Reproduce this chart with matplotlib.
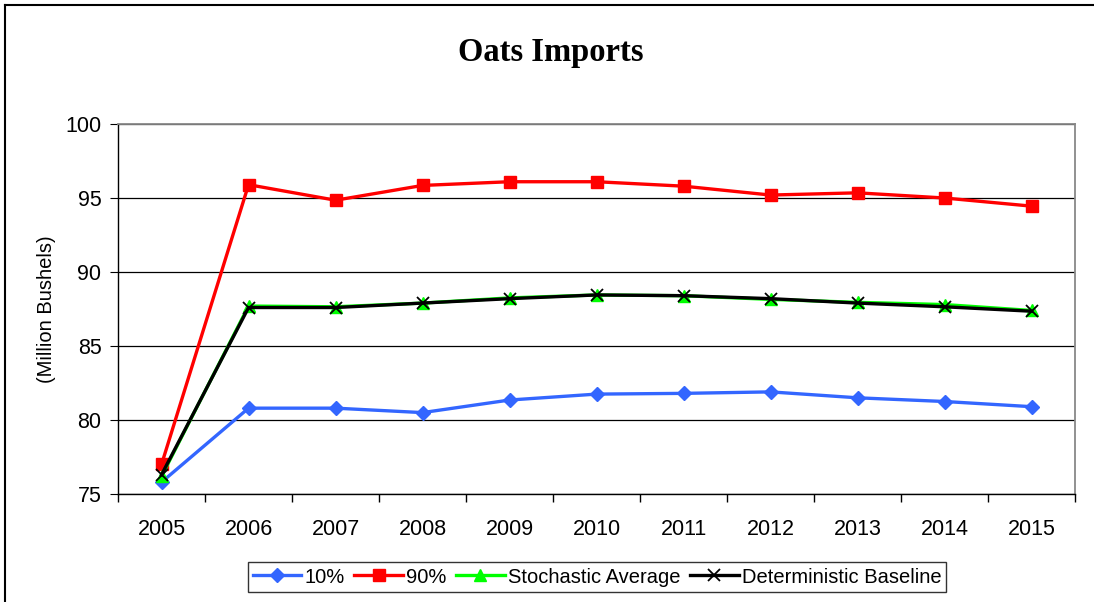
import matplotlib.pyplot as plt
from matplotlib.lines import Line2D

years = ["2005", "2006", "2007", "2008", "2009", "2010", "2011", "2012", "2013", "2014", "2015"]
p10 = [75.8, 80.8, 80.8, 80.5, 81.35, 81.75, 81.8, 81.9, 81.5, 81.25, 80.9]
p90 = [77.0, 95.9, 94.85, 95.85, 96.1, 96.1, 95.8, 95.2, 95.35, 95.0, 94.45]
stoch_avg = [76.2, 87.7, 87.65, 87.9, 88.25, 88.45, 88.4, 88.15, 87.95, 87.8, 87.4]
det_base = [76.3, 87.6, 87.6, 87.9, 88.2, 88.45, 88.4, 88.2, 87.9, 87.65, 87.35]

plt.rcParams['font.family'] = ['Liberation Sans', 'DejaVu Sans']

fig = plt.figure(figsize=(10.94, 6.02), dpi=100)
ax = fig.add_axes([0.1079, 0.1794, 0.8748, 0.6146])

x = list(range(len(years)))
ax.plot(x, p10, color="#3366FF", lw=2.4, marker="D", ms=7, label="10%", zorder=3)
ax.plot(x, p90, color="#FF0000", lw=2.4, marker="s", ms=8.5, label="90%", zorder=3)
ax.plot(x, stoch_avg, color="#00FF00", lw=2.4, marker="^", ms=9, label="Stochastic Average", zorder=4)
ax.plot(x, det_base, color="black", lw=2.4, marker="x", ms=9, mew=1.3, label="Deterministic Baseline", zorder=5)

ax.set_xlim(-0.5, len(years) - 0.5)
ax.set_ylim(75, 100)
ax.set_yticks([75, 80, 85, 90, 95, 100])
ax.set_xticks([i + 0.5 for i in range(-1, len(years))], minor=False)
ax.set_xticklabels([])
ax.set_xticks(x, minor=True)
ax.set_xticklabels(years, minor=True)
ax.tick_params(axis="x", which="minor", length=0, labelsize=15.5, pad=18)
ax.tick_params(axis="x", which="major", length=6, direction="out", width=1)
ax.tick_params(axis="y", length=6, direction="out", labelsize=15.5, pad=6)

ax.yaxis.grid(True, color="black", lw=0.9)
ax.set_axisbelow(True)
for s in ["top", "right"]:
    ax.spines[s].set_color("#888888")
    ax.spines[s].set_linewidth(1.3)
for s in ["left", "bottom"]:
    ax.spines[s].set_color("black")
    ax.spines[s].set_linewidth(1.0)

ax.set_ylabel("(Million Bushels)", fontsize=14.5, labelpad=7)

fig.text(0.5037, 1 - 52 / 602, "Oats Imports", ha="center", va="center",
         fontsize=23.5, fontweight="bold", family="Liberation Serif")

leg = fig.legend(loc="center", bbox_to_anchor=(0.5457, 0.0415), ncol=4, fontsize=14.5,
                 frameon=True, fancybox=False, edgecolor="black", borderpad=0.25,
                 handlelength=2.4, handletextpad=0.15, columnspacing=0.5, borderaxespad=0)
leg.get_frame().set_linewidth(1.0)

# outer chart border (only top and left visible)
fig.add_artist(Line2D([5 / 1094, 5 / 1094], [0, 1 - 5 / 602], color="black", lw=1.5, transform=fig.transFigure))
fig.add_artist(Line2D([5 / 1094, 1], [1 - 5 / 602, 1 - 5 / 602], color="black", lw=1.5, transform=fig.transFigure))

fig.savefig("out.png", dpi=100)
